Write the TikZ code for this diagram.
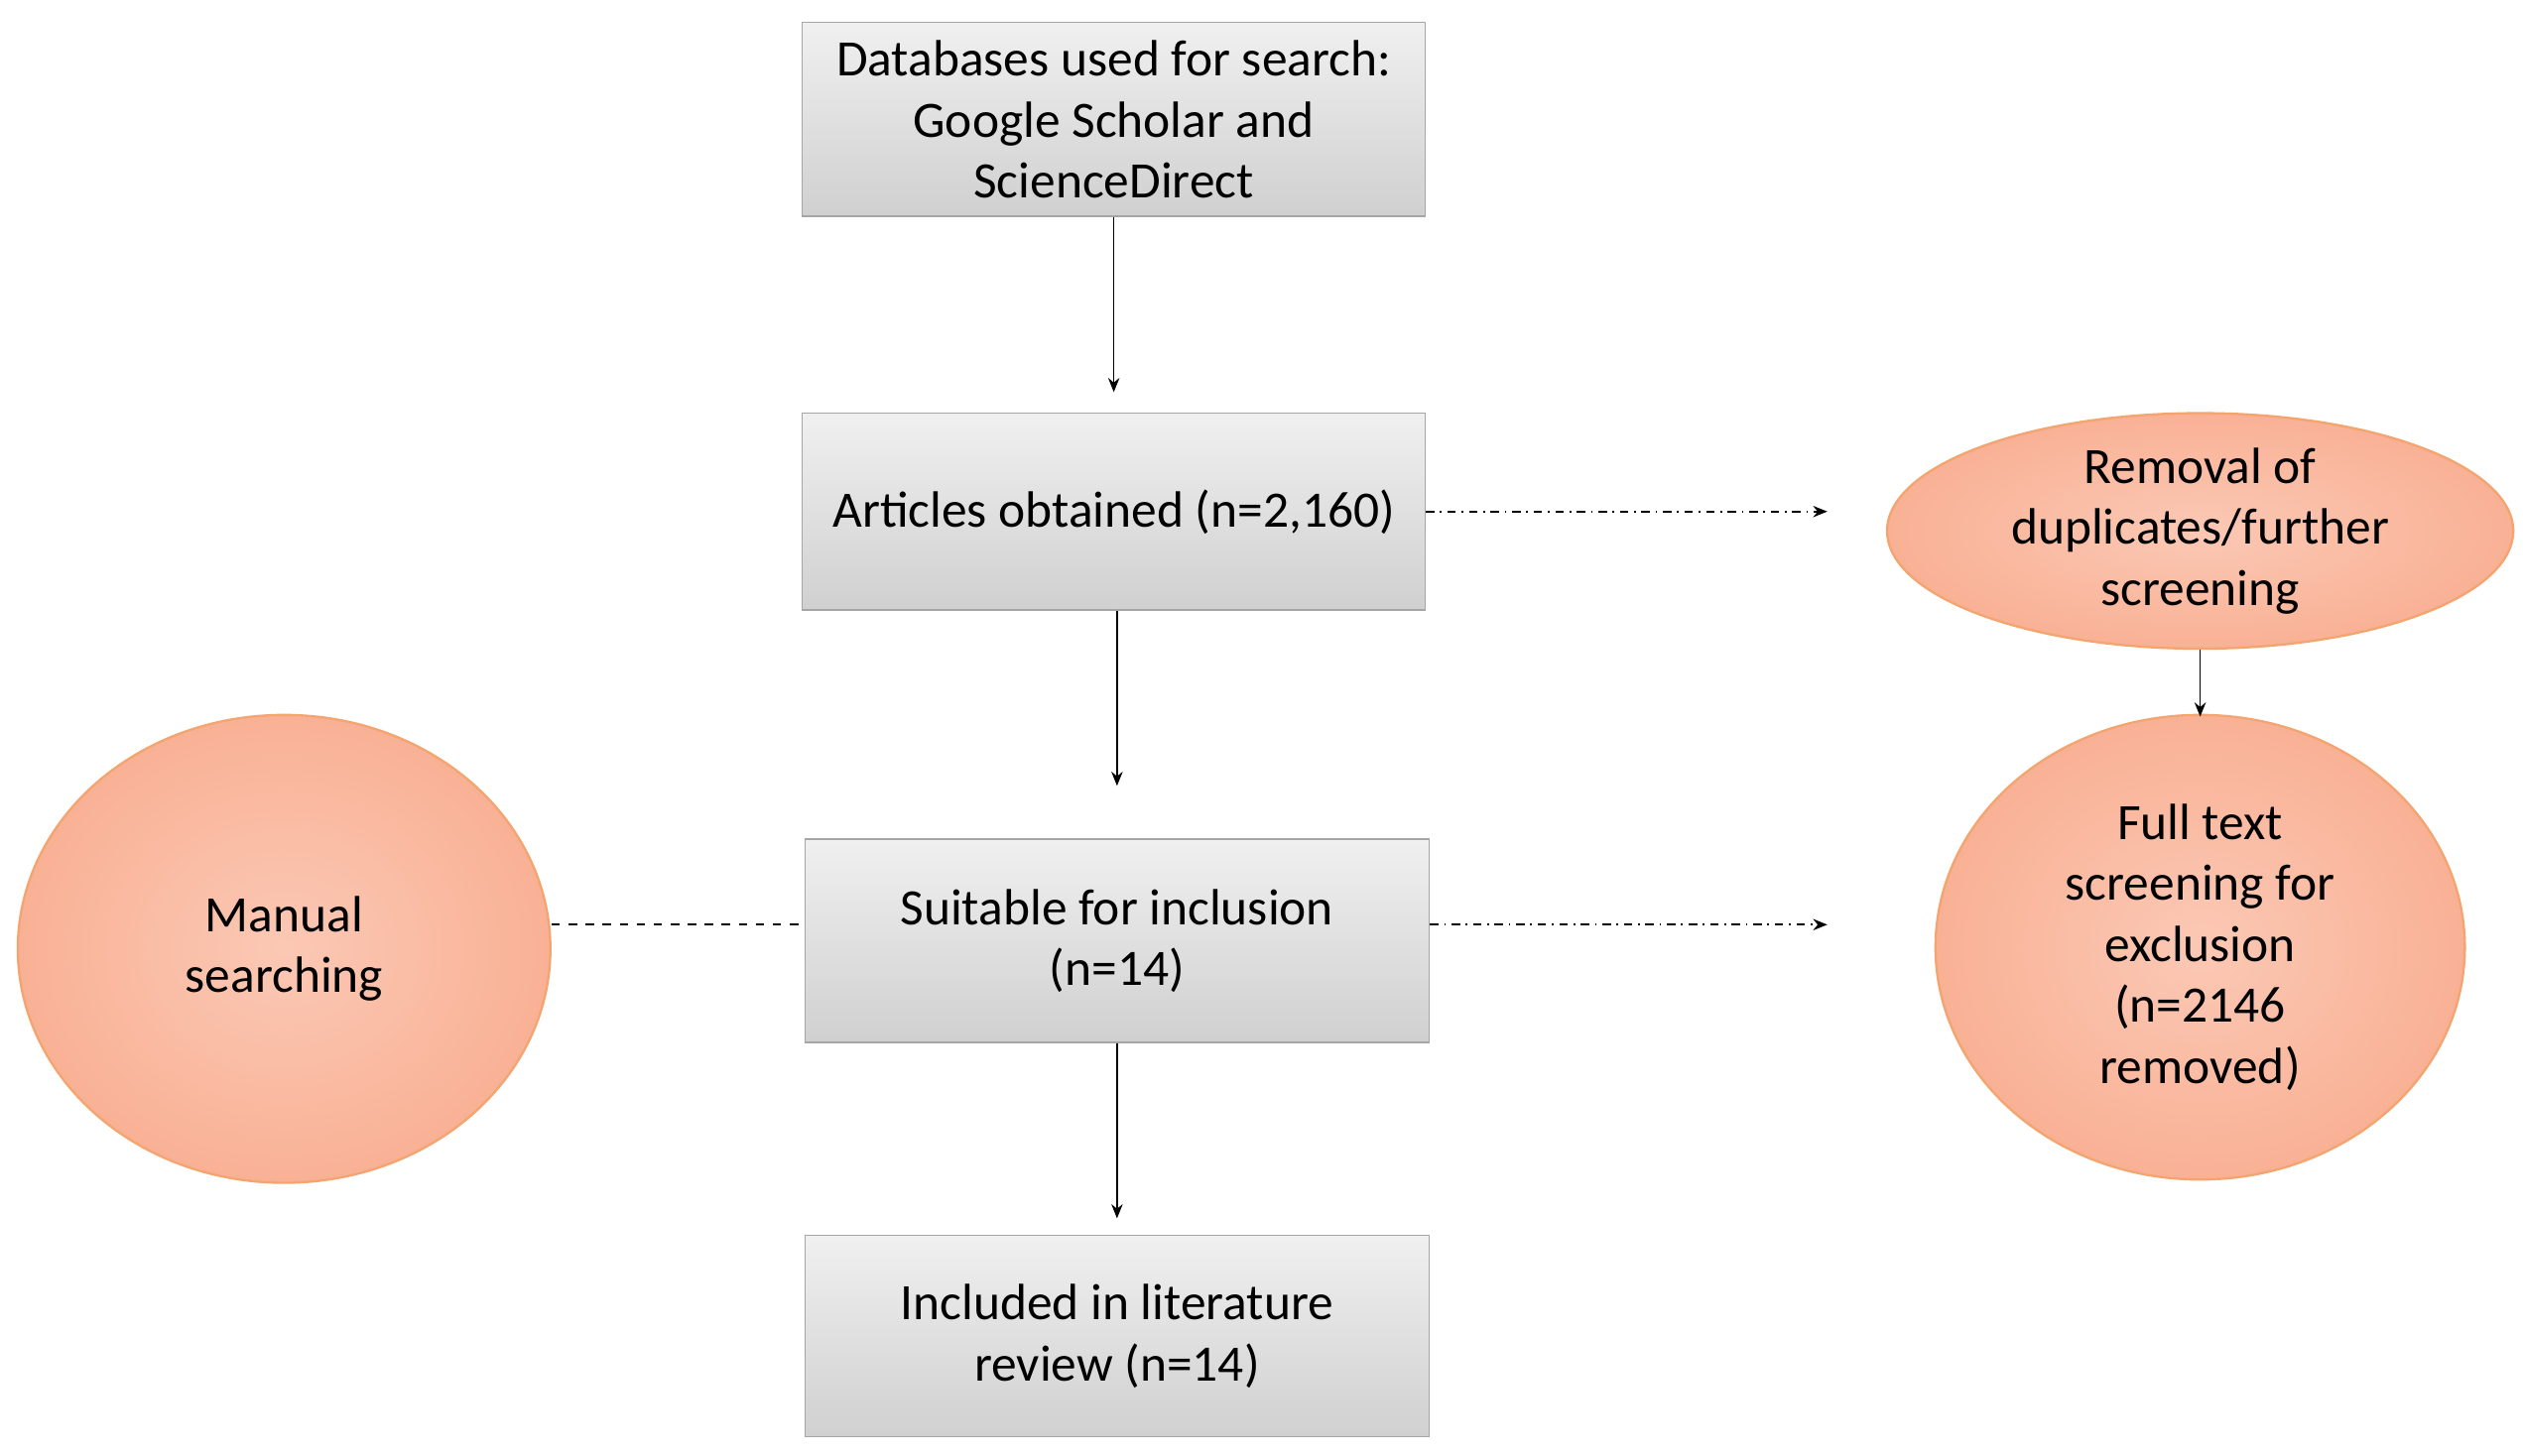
\documentclass[tikz,border=0pt]{standalone}
\usepackage{fontspec}
\setmainfont{Carlito}
\usetikzlibrary{shapes.geometric,arrows.meta}
\definecolor{boxf}{HTML}{D0D0D0}
\definecolor{boxd}{HTML}{A6A6A6}
\definecolor{ellf}{HTML}{F9B195}
\definecolor{elld}{HTML}{F4A46E}
\begin{document}
\begin{tikzpicture}[x=0.02cm,y=-0.02cm,
 box/.style={draw=boxd,top color=gray!12,bottom color=boxf,minimum width=7.72cm,align=center,font=\fontsize{18}{21.5}\selectfont,inner sep=0pt},
 ell/.style={ellipse,draw=elld,line width=0.8pt,inner color=ellf!70,outer color=ellf,align=center,font=\fontsize{18}{21.5}\selectfont,inner sep=0pt},
 arr/.style={-{Stealth[length=5pt,width=4pt]},line width=0.6pt},
 dd/.style={arr,dash dot,line width=0.6pt}]
\useasboundingbox (0,0) rectangle (1563,902);
\node[box,minimum height=2.4cm] (b1) at (690,74) {Databases used for search:\\Google Scholar and\\ScienceDirect};
\node[box,minimum height=2.44cm] (b2) at (690,317) {Articles obtained (n=2,160)};
\node[box,minimum height=2.52cm,minimum width=7.74cm] (b3) at (692,583) {Suitable for inclusion\\(n=14)};
\node[box,minimum height=2.5cm,minimum width=7.74cm] (b4) at (692,828) {Included in literature\\review (n=14)};
\node[ell,minimum width=7.76cm,minimum height=2.92cm] (e1) at (1363,329) {Removal of\\duplicates/further\\screening};
\node[ell,minimum width=6.56cm,minimum height=5.76cm] (e2) at (1363,587) {Full text\\screening for\\exclusion\\(n=2146\\removed)};
\node[ell,minimum width=6.6cm,minimum height=5.8cm] (m) at (176,588) {Manual\\searching};
\coordinate (t1) at (690,243);
\coordinate (t2) at (692,487);
\coordinate (t3) at (692,755);
\coordinate (r1) at (1132,317);
\coordinate (r2) at (1132,573);
\draw[arr] (b1.south) -- (t1);
\draw[arr] (b2.south -| t2) -- (t2);
\draw[arr] (b3.south) -- (t3);
\draw[arr] (e1.south) -- ([yshift=-1pt]e2.north);
\draw[dd] (b2.east) -- (r1);
\draw[dd] (b3.east |- r2) -- (r2);
\draw[dashed,line width=0.6pt] (m.east |- r2) -- (b3.west |- r2);
\end{tikzpicture}
\end{document}
